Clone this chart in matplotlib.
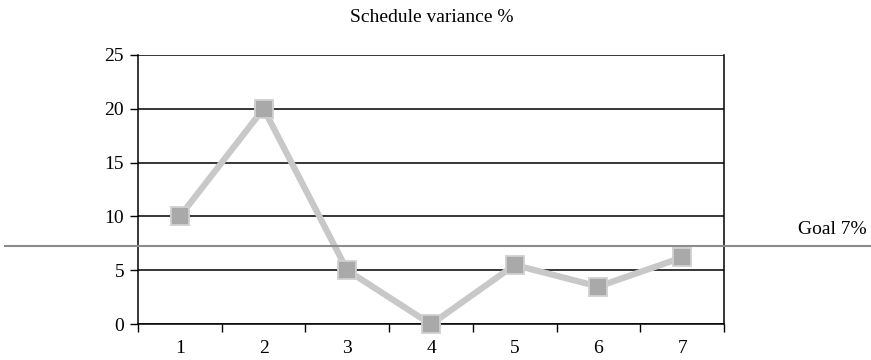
import matplotlib
matplotlib.use("Agg")
import matplotlib.pyplot as plt

categories = ["1", "2", "3", "4", "5", "6", "7"]
variance = [10, 20, 5, 0, 5.5, 3.5, 6.2]
goal = 7.25
goal_label = "Goal 7%"
title = "Schedule variance %"
yticks = [0, 5, 10, 15, 20, 25]

plt.rcParams['font.family'] = ['Liberation Serif', 'DejaVu Serif']
FS = 14

fig = plt.figure(figsize=(8.71, 3.6), dpi=100)
ax = fig.add_axes([138/871, 1-324.3/360, (724-138)/871, (324.3-54.7)/360])

x = list(range(1, len(categories)+1))
ax.plot(x, variance, color='#c8c8c8', lw=4.5, zorder=3, solid_capstyle='butt')
ax.plot(x, variance, ls='none', marker='s', ms=12.5, mfc='#a9a9a9', mec='#d0d0d0', mew=1.3, zorder=4, clip_on=False)

ax.set_xlim(0.5, 7.5)
ax.set_ylim(0, 25)
ax.set_yticks(yticks)
ax.set_yticklabels([str(t) for t in yticks], fontsize=FS)
for t in yticks:
    ax.axhline(t, color='black', lw=1.1, zorder=1)

ax.set_xticks(x)
ax.set_xticklabels(categories, fontsize=FS)
ax.tick_params(axis='x', length=0, pad=11)
ax.set_xticks([i + 0.5 for i in range(0, 8)], minor=True)
ax.tick_params(axis='x', which='minor', length=6, width=1, direction='out')
ax.tick_params(axis='y', length=6, width=1, direction='out', pad=4)

for s in ax.spines.values():
    s.set_color('black')
    s.set_linewidth(1.1)
ax.spines['top'].set_visible(False)

# goal line spanning the whole figure width
fig.add_artist(plt.Line2D([5/871, 1.0], [1-246/360, 1-246/360], color='#8c8c8c', lw=1.5, transform=fig.transFigure, zorder=5))
fig.text(867/871, 1-229/360, goal_label, ha='right', va='center', fontsize=FS)

fig.text(432/871, 1-17/360, title, ha='center', va='center', fontsize=FS)

fig.savefig("out.png", dpi=100)
